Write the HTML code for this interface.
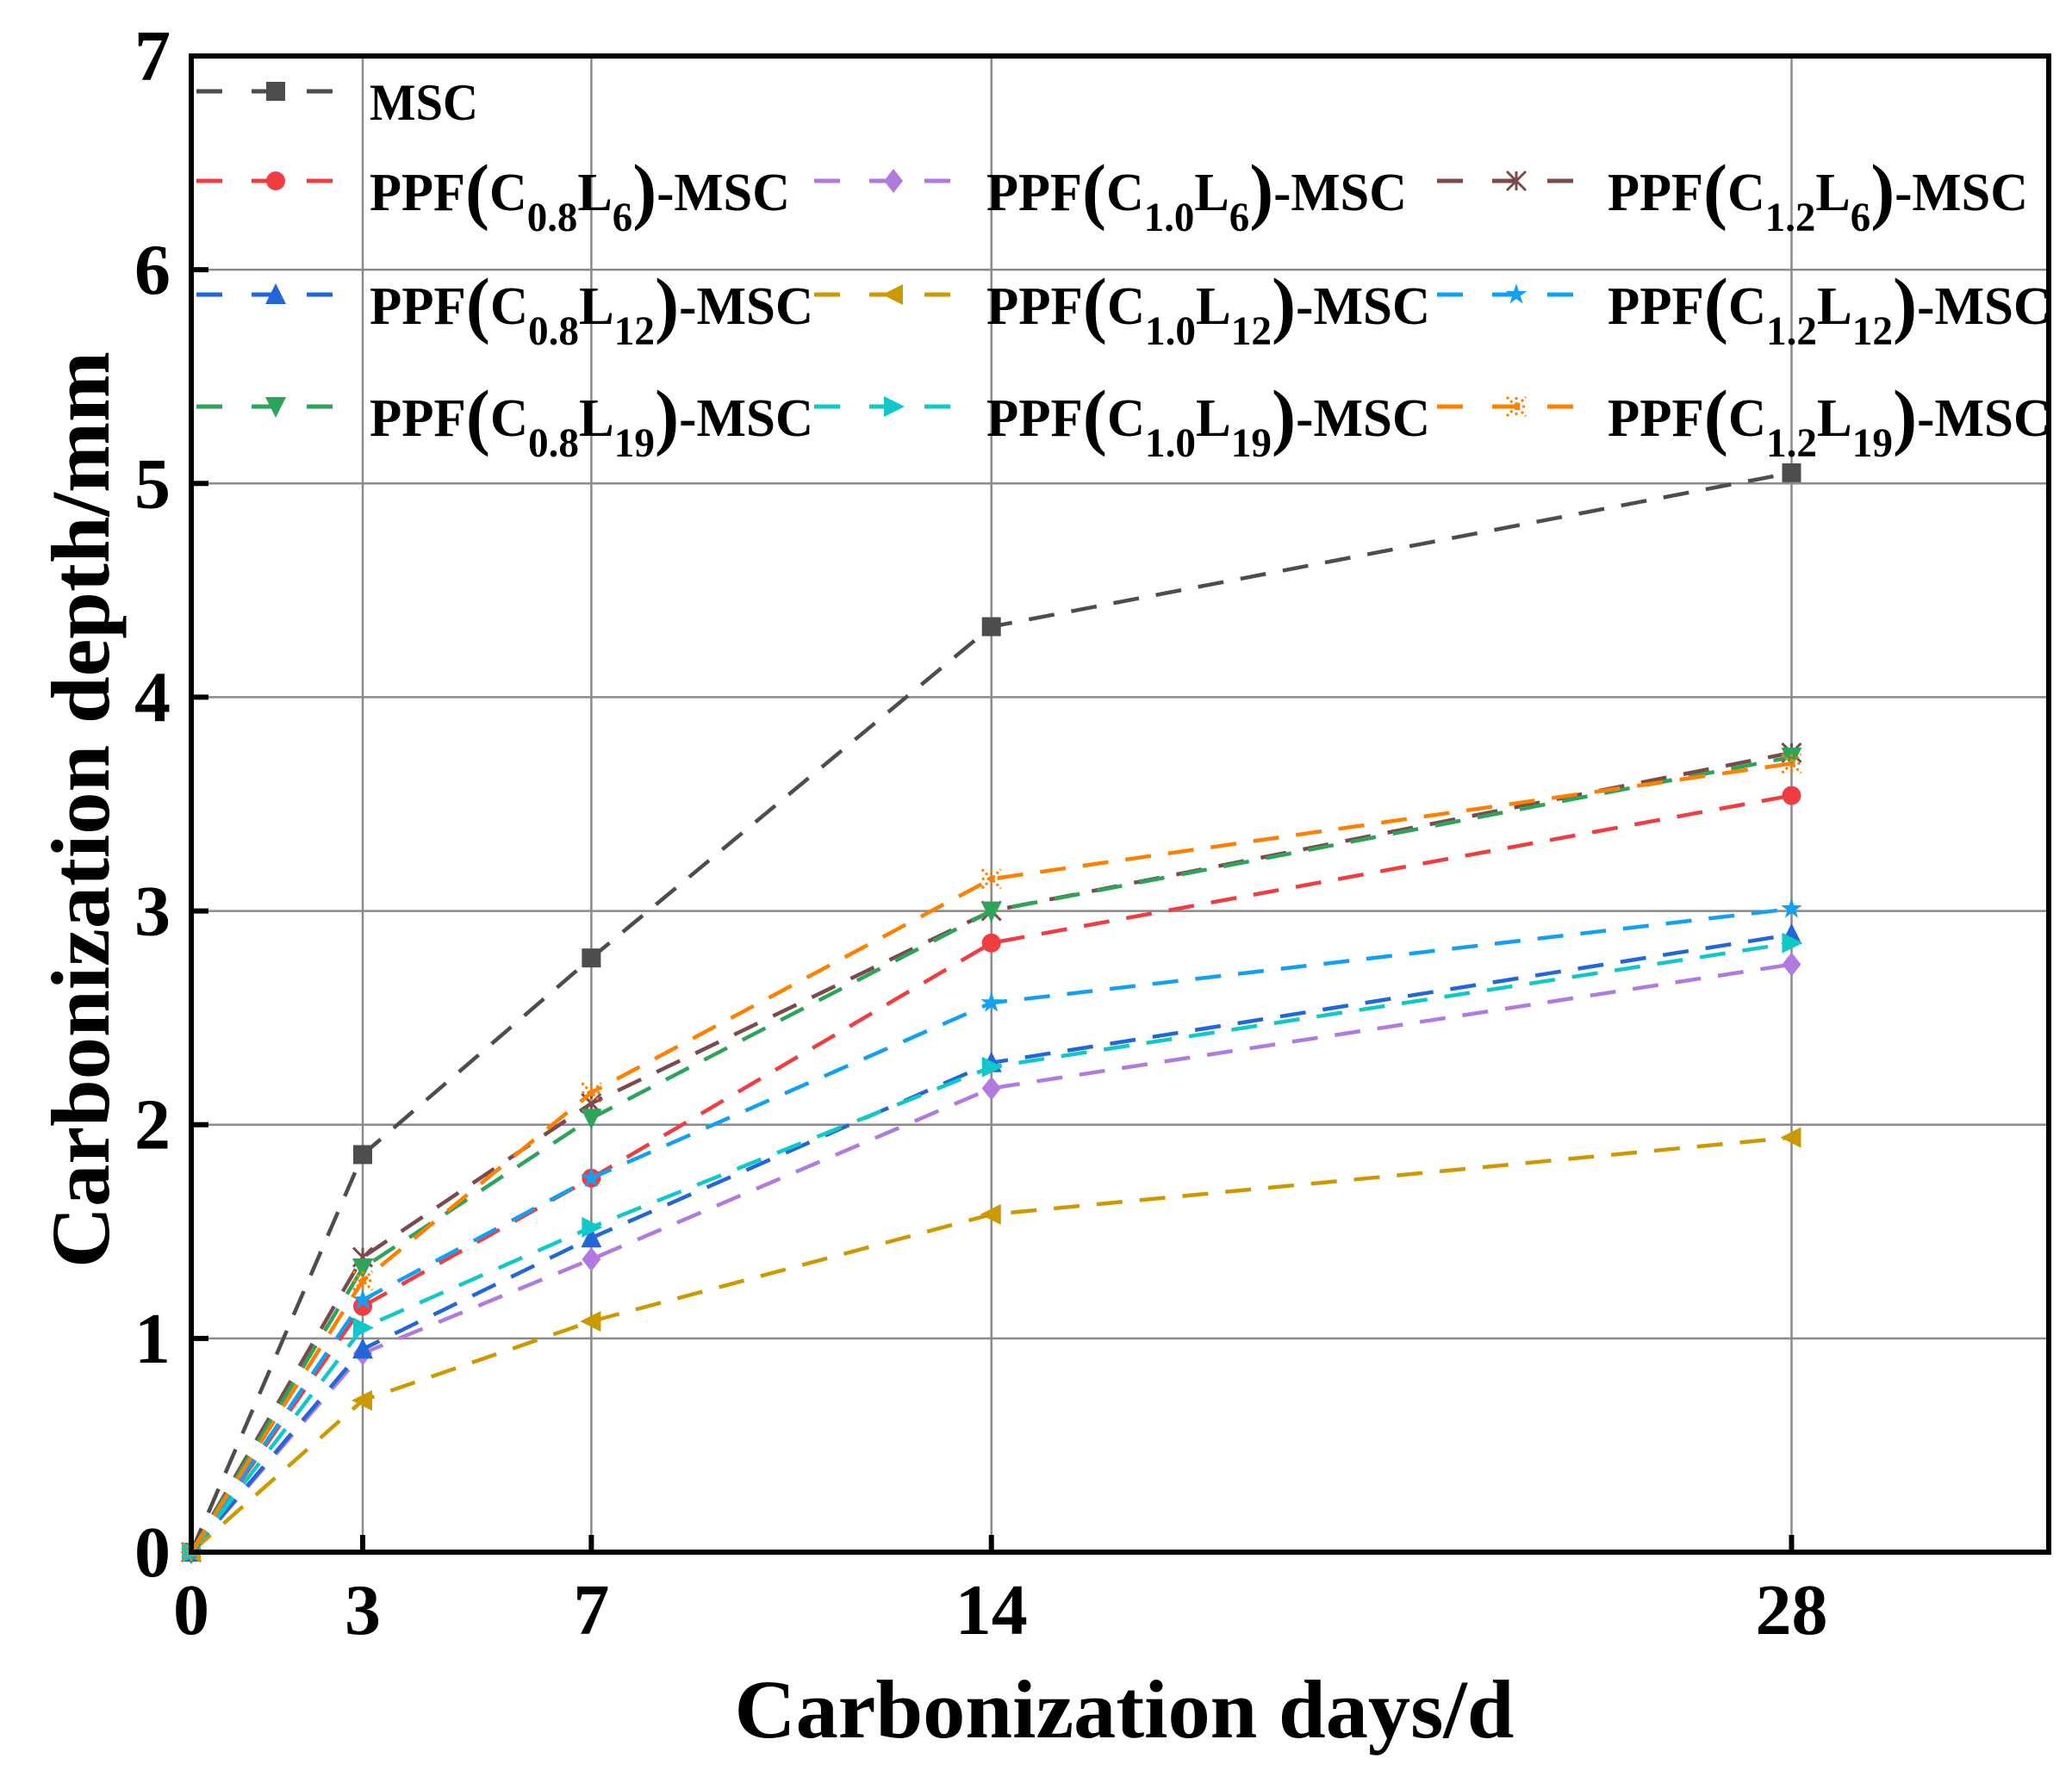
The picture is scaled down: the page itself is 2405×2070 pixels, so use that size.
<!DOCTYPE html>
<html><head><meta charset="utf-8"><style>
html,body{margin:0;padding:0;background:#fff;}
svg{display:block;font-family:"Liberation Serif","Times New Roman",serif;}
</style></head><body>
<svg id="chart" width="2405" height="2070" viewBox="0 0 2405 2070" xmlns="http://www.w3.org/2000/svg">
<rect x="0" y="0" width="2405" height="2070" fill="#fff"/>
<g id="grid"></g>
<g id="series"></g>
<g id="legend"></g>
<g id="axes"></g>
</svg>
<script>
const days = [0, 3, 7, 14, 28];
const xTicks = [0, 3, 7, 14, 28];
const yTicks = [0, 1, 2, 3, 4, 5, 6, 7];
const seriesNames = ["MSC","C0.8L6","C1.0L6","C1.2L6","C0.8L12","C1.0L12","C1.2L12","C0.8L19","C1.0L19","C1.2L19"];
const valMSC     = [0, 1.86, 2.78, 4.33, 5.05];
const valC08L6   = [0, 1.15, 1.75, 2.85, 3.54];
const valC10L6   = [0, 0.93, 1.37, 2.17, 2.75];
const valC12L6   = [0, 1.38, 2.10, 3.00, 3.74];
const valC08L12  = [0, 0.95, 1.47, 2.29, 2.89];
const valC10L12  = [0, 0.71, 1.08, 1.58, 1.94];
const valC12L12  = [0, 1.18, 1.75, 2.57, 3.01];
const valC08L19  = [0, 1.33, 2.03, 3.00, 3.72];
const valC10L19  = [0, 1.05, 1.52, 2.27, 2.85];
const valC12L19  = [0, 1.27, 2.15, 3.15, 3.69];

const NS = "http://www.w3.org/2000/svg";
const L = 222, R = 2378, T = 65, B = 1802;
const XMAX = 32.5, YMAX = 7;
function sx(v){ return L + v * (R - L) / XMAX; }
function sy(v){ return B - v * (B - T) / YMAX; }
function mk(tag, attrs, parent){ const e = document.createElementNS(NS, tag); for (const k in attrs) e.setAttribute(k, attrs[k]); parent.appendChild(e); return e; }

const series = [
 {key:"msc", data:valMSC, color:"#4d4d4d", m:"square", c:null},
 {key:"c08l6", data:valC08L6, color:"#ef3e42", m:"circle", c:["0.8","6"]},
 {key:"c10l6", data:valC10L6, color:"#b07ade", m:"diamond", c:["1.0","6"]},
 {key:"c12l6", data:valC12L6, color:"#7b4a4a", m:"asterisk", c:["1.2","6"]},
 {key:"c08l12", data:valC08L12, color:"#2266d8", m:"triup", c:["0.8","12"]},
 {key:"c10l12", data:valC10L12, color:"#cc9a00", m:"trileft", c:["1.0","12"]},
 {key:"c12l12", data:valC12L12, color:"#14a0f0", m:"star", c:["1.2","12"]},
 {key:"c08l19", data:valC08L19, color:"#2ea45a", m:"tridown", c:["0.8","19"]},
 {key:"c10l19", data:valC10L19, color:"#10c8c8", m:"triright", c:["1.0","19"]},
 {key:"c12l19", data:valC12L19, color:"#ff8000", m:"xstar", c:["1.2","19"]}
];

function marker(g, type, x, y, color){
  const s = 11;
  let e;
  if (type==="square") e = mk("rect",{x:x-s,y:y-s,width:2*s,height:2*s,fill:color},g);
  else if (type==="circle") e = mk("circle",{cx:x,cy:y,r:s,fill:color},g);
  else if (type==="diamond") e = mk("polygon",{points:`${x},${y-s-3} ${x+s},${y} ${x},${y+s+3} ${x-s},${y}`,fill:color},g);
  else if (type==="triup") e = mk("polygon",{points:`${x},${y-s-2} ${x+s+1},${y+s} ${x-s-1},${y+s}`,fill:color},g);
  else if (type==="tridown") e = mk("polygon",{points:`${x},${y+s+2} ${x+s+1},${y-s} ${x-s-1},${y-s}`,fill:color},g);
  else if (type==="trileft") e = mk("polygon",{points:`${x-s-2},${y} ${x+s},${y-s-1} ${x+s},${y+s+1}`,fill:color},g);
  else if (type==="triright") e = mk("polygon",{points:`${x+s+2},${y} ${x-s},${y-s-1} ${x-s},${y+s+1}`,fill:color},g);
  else if (type==="star") {
    let p=[]; for(let i=0;i<10;i++){const r=i%2?5:s+2;const a=-Math.PI/2+i*Math.PI/5;p.push((x+r*Math.cos(a)).toFixed(1)+","+(y+r*Math.sin(a)).toFixed(1));}
    e = mk("polygon",{points:p.join(" "),fill:color},g);
  } else if (type==="asterisk") {
    e = mk("path",{d:`M${x-s},${y-s}L${x+s},${y+s}M${x-s},${y+s}L${x+s},${y-s}M${x},${y-s}L${x},${y+s}`,stroke:color,"stroke-width":3,fill:"none"},g);
  } else if (type==="xstar") {
    e = mk("path",{d:`M${x-s},${y-s}L${x+s},${y+s}M${x-s},${y+s}L${x+s},${y-s}M${x-s},${y}L${x+s},${y}M${x},${y-s}L${x},${y+s}`,stroke:color,"stroke-width":3,"stroke-dasharray":"3 3",fill:"none"},g);
  }
  return e;
}

// grid
const grid = document.getElementById("grid");
xTicks.forEach(t => { if (t===0) return;
  const ln = mk("line",{x1:sx(t),x2:sx(t),y1:T,y2:B,stroke:"#8a8a8a","stroke-width":2.5},grid);
  
  
});
yTicks.forEach(t => { if (t===0||t===7) return;
  const ln = mk("line",{x1:L,x2:R,y1:sy(t),y2:sy(t),stroke:"#8a8a8a","stroke-width":2.5},grid);
  
  
});

// series
const sg = document.getElementById("series");
series.forEach(s => {
  const g = mk("g",{},sg);
  
  
  const pts = s.data.map((v,i)=>sx(days[i]).toFixed(1)+","+sy(v).toFixed(1)).join(" ");
  const pl = mk("polyline",{points:pts,fill:"none",stroke:s.color,"stroke-width":4.5,"stroke-dasharray":"30 20"},g);
  
  
  s.data.forEach((v,i)=>{
    const m = marker(g, s.m, sx(days[i]), sy(v), s.color);
    
    
  });
});

// legend
const lg = document.getElementById("legend");
const colLine = [228, 945, 1668], colText = [429, 1145, 1866];
const rowY = [106, 210, 342, 472];
series.forEach((s, idx) => {
  let col, row;
  if (idx===0){col=0;row=0;} else {col=(idx-1)%3; row=1+Math.floor((idx-1)/3);}
  const y = rowY[row], x0 = colLine[col];
  const g = mk("g",{},lg);
  
  
  mk("line",{x1:x0,x2:x0+170,y1:y,y2:y,stroke:s.color,"stroke-width":5,"stroke-dasharray":"30 34"},g);
  marker(g, s.m, x0+92, y, s.color);
  if (!s.c){
    const t = mk("text",{x:colText[col],y:y+33,"font-size":60,"font-weight":"bold",fill:"#000",textLength:126,lengthAdjust:"spacingAndGlyphs"},g);
    t.textContent = "MSC";
  } else {
    const w = s.c[1].length===1 ? 488 : 515;
    const t = mk("text",{x:colText[col],y:y+34,"font-size":62,"font-weight":"bold",fill:"#000",textLength:w,lengthAdjust:"spacingAndGlyphs"},g);
    const parts = [["PPF",0,62],["(",6,86],["C",-6,62],[s.c[0],24,48],["L",-24,62],[s.c[1],24,48],[")",-18,86],["-MSC",-6,62]];
    parts.forEach(p=>{ const ts = mk("tspan",{dy:p[1],"font-size":p[2]},t); ts.textContent=p[0]; });
  }
});

// axes
const ax = document.getElementById("axes");
mk("rect",{x:L,y:T,width:R-L,height:B-T,fill:"none",stroke:"#000","stroke-width":6},ax);
xTicks.forEach(t => {
  mk("line",{x1:sx(t),x2:sx(t),y1:B,y2:B-20,stroke:"#000","stroke-width":6},ax);
  const tx = mk("text",{x:sx(t),y:1897,"font-size":84,"font-weight":"bold","text-anchor":"middle"},ax);
  tx.textContent = t;
  
  
});
yTicks.forEach(t => {
  mk("line",{x1:L,x2:L+20,y1:sy(t),y2:sy(t),stroke:"#000","stroke-width":6},ax);
  const tx = mk("text",{x:198,y:sy(t)+28,"font-size":84,"font-weight":"bold","text-anchor":"end"},ax);
  tx.textContent = t;
  
  
});
const xt = mk("text",{x:1305,y:2017,"font-size":96,"font-weight":"bold","text-anchor":"middle",textLength:905,lengthAdjust:"spacingAndGlyphs"},ax);
xt.textContent = "Carbonization days/d";


const yt = mk("text",{x:0,y:0,"font-size":96,"font-weight":"bold","text-anchor":"middle",textLength:1064,lengthAdjust:"spacingAndGlyphs",transform:"translate(126,940) rotate(-90)"},ax);
yt.textContent = "Carbonization depth/mm";


</script>
</body></html>
